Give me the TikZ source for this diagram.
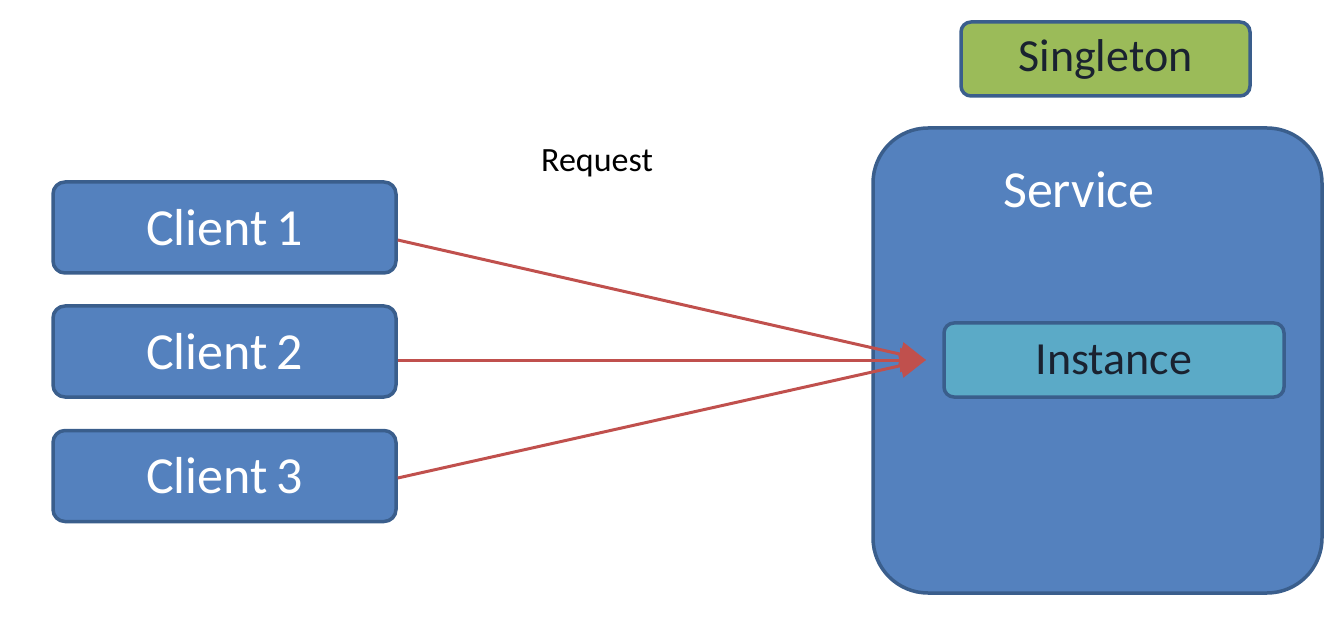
\documentclass[tikz,border=0pt]{standalone}
\usepackage{fontspec}
\setmainfont{Carlito}
\usetikzlibrary{arrows.meta}
\definecolor{boxblue}{HTML}{5481BE}
\definecolor{edgeblue}{HTML}{3A5E8C}
\definecolor{instfill}{HTML}{5BAAC7}
\definecolor{singfill}{HTML}{9BBB59}
\definecolor{arrowred}{HTML}{C0504D}
\definecolor{darktext}{HTML}{1A2230}
\tikzset{
  client/.style={draw=edgeblue, line width=3.5pt, fill=boxblue, rounded corners=12pt,
    minimum width=343pt, minimum height=91pt, text=white, font=\fontsize{52}{60}\selectfont, inner sep=0pt},
  inner/.style={draw=edgeblue, line width=3.5pt, rounded corners=10pt, inner sep=0pt,
    text=darktext, font=\fontsize{46}{54}\selectfont},
  req/.style={draw=arrowred, line width=3pt, -{Triangle[length=26pt,width=24pt]}}
}
\begin{document}
\begin{tikzpicture}[x=1pt,y=-1pt]
\useasboundingbox (0,0) rectangle (1344,620);
\node[client] (c1) at (224.5,227.5) {Client\,1};
\node[client] (c2) at (224.5,351.5) {Client\,2};
\node[client] (c3) at (224.5,476) {Client\,3};
\node[draw=edgeblue, line width=3.5pt, fill=boxblue, rounded corners=55pt, minimum width=449pt, minimum height=465pt, inner sep=0pt] (svc) at (1097.5,360.5) {};
\node[text=white, font=\fontsize{52}{60}\selectfont] (svct) at (1079,190) {Service};
\node[inner, fill=instfill, minimum width=340pt, minimum height=74pt] (inst) at (1114,360) {Instance};
\node[inner, fill=singfill, minimum width=289pt, minimum height=74pt] (sing) at (1105.5,59) {Singleton};
\node[font=\fontsize{34}{40}\selectfont, text=black] (reqt) at (597,163) {Request};
\coordinate (tip) at (926,360);
\draw[req] (c1.east |- 0,240) -- (tip);
\draw[req] (c2.east |- 0,360) -- (tip);
\draw[req] (c3.east |- 0,478) -- (tip);
\end{tikzpicture}
\end{document}
